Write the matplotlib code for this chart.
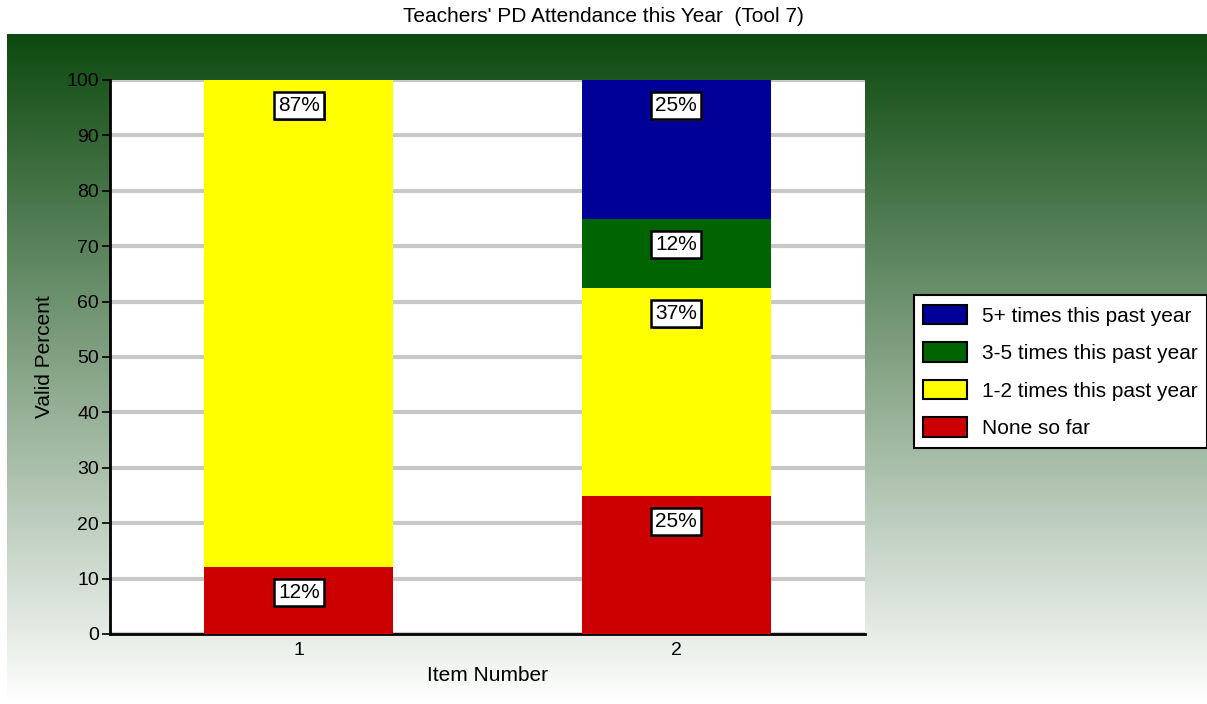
import matplotlib.pyplot as plt
import matplotlib.patheffects as pe
import numpy as np
from matplotlib.colors import LinearSegmentedColormap

plt.rcParams['font.family'] = ['Liberation Sans', 'DejaVu Sans']

# Data
items = [1, 2]
series = ['None so far', '1-2 times this past year', '3-5 times this past year', '5+ times this past year']
colors = ['#cc0000', '#ffff00', '#006400', '#000099']
values = [
    [12.1, 25.0],   # None so far
    [87.9, 37.5],   # 1-2 times
    [0.0, 12.4],    # 3-5 times
    [0.0, 25.1],    # 5+ times
]
labels = [
    ['12%', '25%'],
    ['87%', '37%'],
    ['', '12%'],
    ['', '25%'],
]

fig = plt.figure(figsize=(12.07, 7.04), dpi=100)

# Green gradient background
bg = fig.add_axes([7 / 1207, 0, 1 - 7 / 1207, (704 - 34) / 704])
cmap = LinearSegmentedColormap.from_list('g', ['#0d4a0f', '#ffffff'])
grad = np.linspace(0, 1, 256).reshape(-1, 1)
bg.imshow(grad, aspect='auto', cmap=cmap, extent=[0, 1, 0, 1])
bg.axis('off')

ax = fig.add_axes([110 / 1207, 70 / 704, 755 / 1207, 554 / 704])
ax.set_facecolor('white')

bottom = np.zeros(len(items))
for vals, labs, col, name in zip(values, labels, colors, series):
    ax.bar(items, vals, width=0.5, bottom=bottom, color=col, label=name, zorder=3)
    for x, v, b, lab in zip(items, vals, bottom, labs):
        if v > 0:
            t = ax.annotate(lab, (x, b + v), xytext=(0, -18.5), textcoords='offset points',
                            ha='center', va='center', fontsize=15, zorder=5,
                            bbox=dict(boxstyle='square,pad=0.2', fc='white', ec='black', lw=1.8))
            t.get_bbox_patch().set_path_effects([pe.SimplePatchShadow(offset=(1.2, -1.2), shadow_rgbFace='#444444', alpha=1), pe.Normal()])
    bottom = bottom + np.array(vals)

ax.set_xlim(0.5, 2.5)
ax.set_ylim(0, 100)
ax.set_yticks(range(0, 101, 10))
ax.set_xticks(items)
ax.yaxis.grid(True, color='#c8c8c8', linewidth=3, zorder=0)
ax.set_axisbelow(True)
for s in ['top', 'right']:
    ax.spines[s].set_visible(False)
ax.spines['left'].set_linewidth(2)
ax.spines['bottom'].set_linewidth(2)
ax.tick_params(axis='y', length=6, width=1.2, labelsize=14, pad=2)
ax.tick_params(axis='x', length=0, labelsize=14, pad=6)
ax.set_xlabel('Item Number', fontsize=15, labelpad=5)
ax.set_ylabel('Valid Percent', fontsize=15, labelpad=9)

h, l = ax.get_legend_handles_labels()
leg = fig.legend(h[::-1], l[::-1], loc='center left', bbox_to_anchor=(914 / 1207, (704 - 371.5) / 704),
                 fontsize=15, frameon=True, fancybox=False, shadow=False, framealpha=1, borderpad=0.45,
                 handlelength=2.07, handleheight=1.06, labelspacing=0.8, handletextpad=0.75, borderaxespad=0)
leg.get_frame().set_edgecolor('black')
leg.get_frame().set_linewidth(1.5)
for p in leg.get_patches():
    p.set_edgecolor('black')
    p.set_linewidth(1.5)

fig.text(0.5, 1 - 17 / 704, "Teachers' PD Attendance this Year  (Tool 7)", ha='center', va='center', fontsize=15)

fig.savefig('out.png', dpi=100)
